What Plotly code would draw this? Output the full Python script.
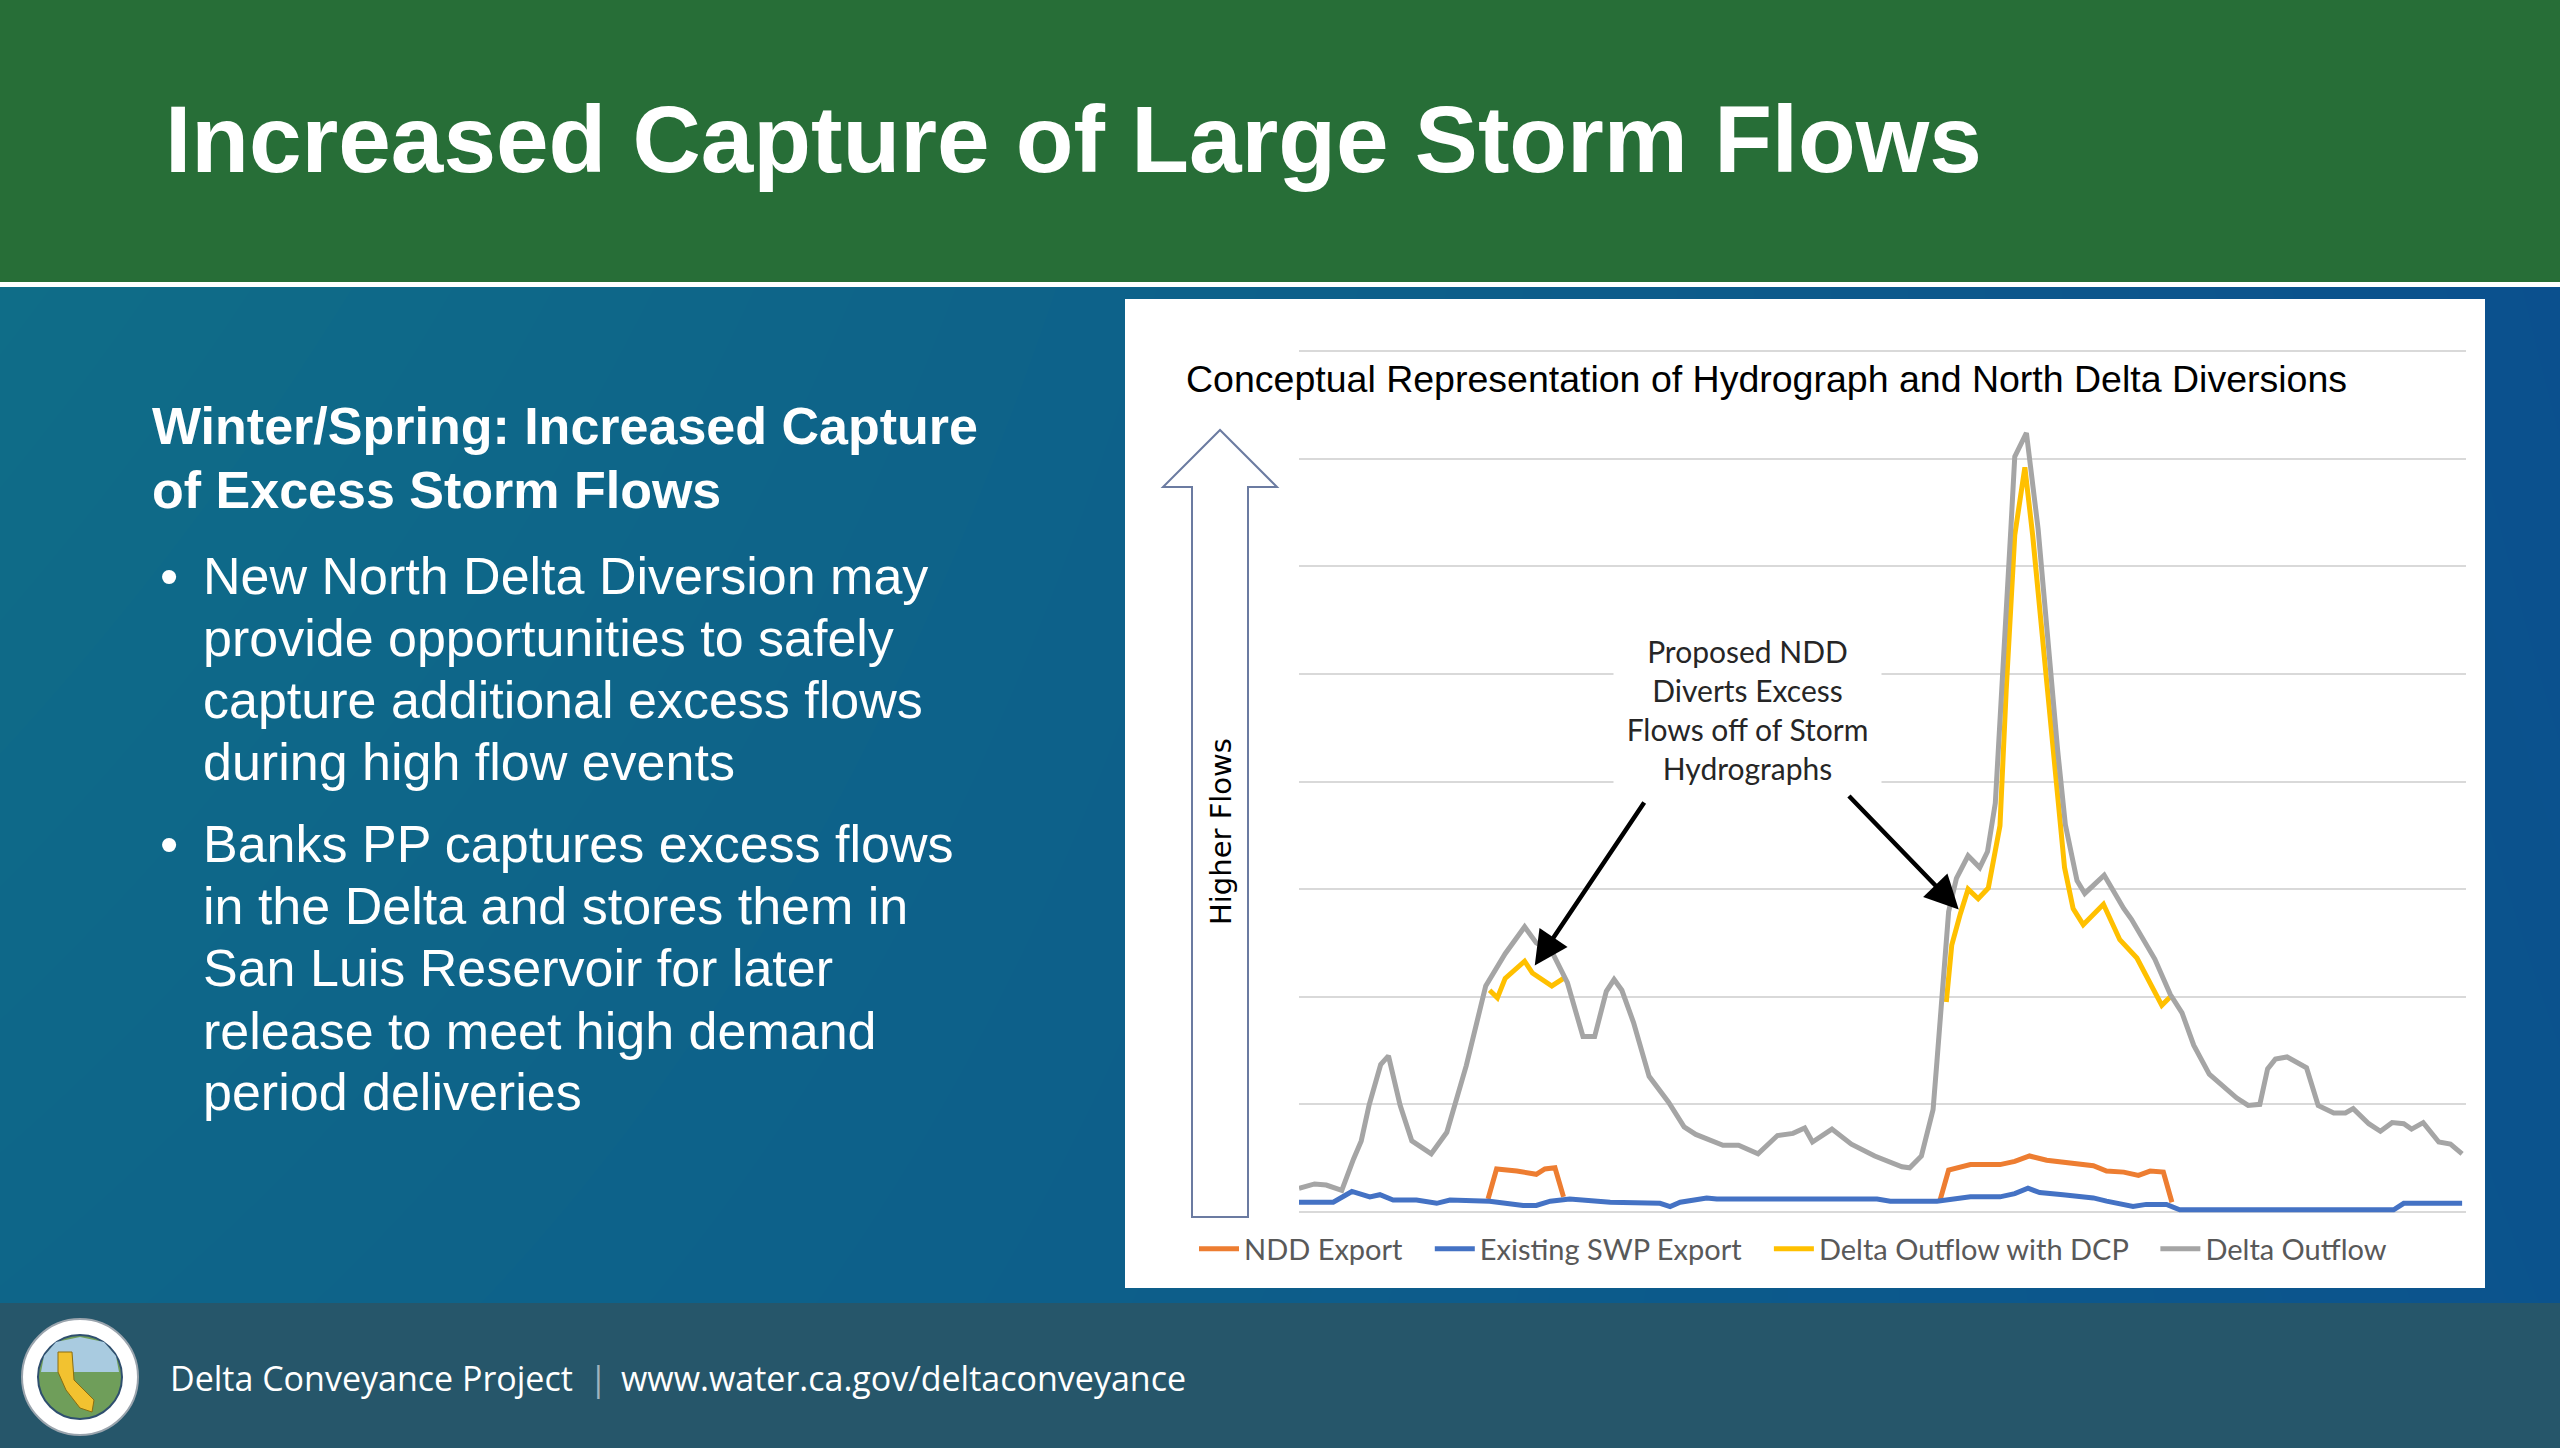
import plotly.graph_objects as go

W, H = 2560, 1448

# ---- chart data ----
# Delta Outflow (grey)
outflow_day = [0, 2, 3.5, 5.5, 7, 8, 9, 10.5, 11.5, 13, 14.5, 17, 19, 21.5, 24, 26.5, 29, 30.5,
               32.5, 34.5, 36.5, 38, 39.5, 40.5, 41.5, 43, 45, 47.5, 49.5, 51, 54.5, 56.5, 59,
               61.5, 63.5, 65, 66, 68.5, 71, 74, 77.5, 78.5, 80, 81.5, 82, 83, 83.5, 84.5, 86,
               87.5, 88.5, 89.5, 90.5, 91.5, 92, 93.5, 95, 96, 97.5, 98.5, 100, 101, 103.5, 106,
               107, 110, 112, 113.5, 115, 117, 119, 120.5, 122, 123.5, 124.5, 125.5, 127, 129.5,
               131, 133, 134.5, 135.5, 137.5, 139, 140.5, 142, 143, 144.5, 146.5, 148, 149.5]
outflow = [0.22, 0.26, 0.25, 0.20, 0.49, 0.66, 0.99, 1.37, 1.45, 0.99, 0.66, 0.54, 0.74, 1.36,
           2.10, 2.40, 2.65, 2.50, 2.42, 2.13, 1.63, 1.63, 2.05, 2.16, 2.06, 1.76, 1.26, 1.02,
           0.79, 0.72, 0.62, 0.62, 0.54, 0.71, 0.73, 0.78, 0.65, 0.77, 0.63, 0.52, 0.42, 0.41,
           0.52, 0.95, 1.40, 2.30, 2.79, 3.10, 3.31, 3.20, 3.35, 3.80, 4.99, 6.35, 7.02, 7.24,
           6.35, 5.50, 4.30, 3.60, 3.08, 2.96, 3.13, 2.82, 2.72, 2.35, 2.02, 1.85, 1.55, 1.28,
           1.15, 1.06, 0.99, 1.00, 1.33, 1.42, 1.44, 1.34, 0.99, 0.92, 0.92, 0.96, 0.82, 0.75,
           0.83, 0.82, 0.77, 0.83, 0.65, 0.63, 0.54]

# Delta Outflow with DCP (yellow), only while the NDD diverts
dcp_day_1 = [24.5, 25.5, 26.5, 29, 30, 32.5, 34]
dcp_flow_1 = [2.06, 1.99, 2.17, 2.33, 2.22, 2.10, 2.17]
dcp_day_2 = [83.2, 83.9, 85, 86, 87.3, 88.6, 90.1, 90.9, 92, 93.3, 94.3, 95.6, 97.2, 98.4,
             99.5, 100.8, 103.4, 105.5, 107.7, 110.9, 112]
dcp_flow_2 = [1.95, 2.48, 2.77, 3.00, 2.91, 3.01, 3.59, 4.85, 6.29, 6.92, 6.29, 5.28, 4.12,
              3.20, 2.82, 2.67, 2.86, 2.53, 2.36, 1.92, 2.00]

# NDD Export (orange)
ndd_day_1 = [24.3, 25.4, 28, 30.5, 31.6, 32.9, 34]
ndd_flow_1 = [0.12, 0.40, 0.38, 0.35, 0.40, 0.41, 0.14]
ndd_day_2 = [82.4, 83.5, 86.3, 90.1, 92, 93.9, 96.1, 100, 102.1, 103.8, 106, 107.9, 109.4,
             111.1, 112.2]
ndd_flow_2 = [0.11, 0.39, 0.44, 0.44, 0.47, 0.52, 0.48, 0.44, 0.43, 0.38, 0.37, 0.34, 0.38,
              0.37, 0.09]

# Existing SWP Export (blue)
swp_day = [0, 4.4, 6.8, 9.1, 10.4, 12.1, 15.1, 17.7, 19.4, 24.5, 28.8, 30.5, 32.3, 34.8, 40,
           46.4, 47.7, 49, 52.4, 53.7, 74.3, 76, 82, 86.3, 90.1, 92, 93.7, 95.2, 98.2, 102.1,
           103.8, 107.2, 108.9, 111.5, 113.2, 140.7, 142, 149.5]
swp = [0.09, 0.09, 0.19, 0.14, 0.16, 0.11, 0.11, 0.08, 0.11, 0.10, 0.06, 0.06, 0.10, 0.12,
       0.09, 0.08, 0.05, 0.09, 0.13, 0.12, 0.12, 0.10, 0.10, 0.14, 0.14, 0.17, 0.22, 0.18,
       0.16, 0.13, 0.10, 0.05, 0.07, 0.07, 0.02, 0.02, 0.08, 0.08]

# points the two callout arrows start from / point at (day, flow)
arrow_tails = [(44.5, 3.82), (70.5, 3.88)]
arrow_heads = [(30.3, 2.29), (84.8, 2.81)]

callout_lines = ["Proposed NDD", "Diverts Excess", "Flows off of Storm", "Hydrographs"]
heading_lines = ["Winter/Spring: Increased Capture", "of Excess Storm Flows"]
bullets = [
    ["New North Delta Diversion may", "provide opportunities to safely",
     "capture additional excess flows", "during high flow events"],
    ["Banks PP captures excess flows", "in the Delta and stores them in",
     "San Luis Reservoir for later", "release to meet high demand",
     "period deliveries"],
]

ORANGE = "#ED7D31"
BLUE = "#4472C4"
YELLOW = "#FFC000"
GREY = "#A5A5A5"

# chart plot area in page pixels
PLOT_L, PLOT_R, PLOT_T, PLOT_B = 1299, 2466, 349, 1213

fig = go.Figure()

# slide background gradient on a hidden full-page axis (pixel coordinates)
fig.add_trace(go.Heatmap(x=[0, W], y=[287, 1303], z=[[0, 1], [0.3, 0.9]],
                         colorscale=[[0, "#0f6d88"], [0.55, "#0d5f8a"], [1, "#0b508e"]],
                         zsmooth="best", showscale=False, hoverinfo="skip",
                         xaxis="x", yaxis="y"))
# white chart panel, same pixel axis
fig.add_trace(go.Scatter(x=[1125, 2485, 2485, 1125, 1125], y=[299, 299, 1288, 1288, 299],
                         mode="lines", fill="toself", fillcolor="#ffffff",
                         line=dict(width=0, color="#ffffff"), showlegend=False,
                         hoverinfo="skip", xaxis="x", yaxis="y"))


def seg(d1, v1, d2, v2):
    return d1 + [None] + d2, v1 + [None] + v2


nx, ny = seg(ndd_day_1, ndd_flow_1, ndd_day_2, ndd_flow_2)
yx, yy = seg(dcp_day_1, dcp_flow_1, dcp_day_2, dcp_flow_2)

pad = "\u00a0\u00a0\u00a0"
series = [
    ("NDD Export", nx, ny, ORANGE),
    ("Existing SWP Export", swp_day, swp, BLUE),
    ("Delta Outflow with DCP", yx, yy, YELLOW),
    ("Delta Outflow", outflow_day, outflow, GREY),
]
for name, xs, ys, col in series:
    fig.add_trace(go.Scatter(x=xs, y=ys, name=name + pad, mode="lines",
                             line=dict(color=col, width=5), connectgaps=False,
                             xaxis="x2", yaxis="y2", hoverinfo="skip"))

shapes = [
    # header, divider, footer
    dict(type="rect", xref="x", yref="y", x0=0, x1=W, y0=0, y1=282,
         fillcolor="#276e37", line_width=0, layer="above"),
    dict(type="rect", xref="x", yref="y", x0=0, x1=W, y0=282, y1=287,
         fillcolor="#ffffff", line_width=0, layer="above"),
    dict(type="rect", xref="x", yref="y", x0=0, x1=W, y0=1303, y1=H,
         fillcolor="#26566a", line_width=0, layer="above"),
    # "Higher Flows" block arrow
    dict(type="path", xref="x", yref="y", layer="above",
         path="M1192,1217 L1192,487 L1163,487 L1220,430 L1277,487 L1248,487 L1248,1217 Z",
         fillcolor="rgba(0,0,0,0)", line=dict(color="#6b7ba1", width=2)),
    # seal in the footer
    dict(type="circle", xref="x", yref="y", x0=22, x1=138, y0=1319, y1=1435,
         fillcolor="#ffffff", line=dict(color="#9aa4ad", width=2), layer="above"),
    dict(type="circle", xref="x", yref="y", x0=38, x1=122, y0=1335, y1=1419,
         fillcolor="#6f9e5a", line=dict(color="#2f4f6f", width=2), layer="above"),
    dict(type="path", xref="x", yref="y", layer="above",
         path="M41,1372 L119,1372 L116,1356 L104,1342 L80,1337 L56,1342 L44,1356 Z",
         fillcolor="#a9cbe0", line_width=0),
    dict(type="path", xref="x", yref="y", layer="above",
         path="M58,1352 L72,1352 L74,1380 L94,1400 L92,1412 L80,1408 L66,1390 L58,1372 Z",
         fillcolor="#f2c230", line=dict(color="#8a6d10", width=1)),
]

ann = []


def text(x, y, s, size, family, color="#ffffff", xanchor="left", bold=False, **kw):
    if bold:
        s = "<b>" + s + "</b>"
    ann.append(dict(x=x, y=y, xref="x", yref="y", text=s, showarrow=False,
                    xanchor=xanchor, yanchor="middle",
                    font=dict(size=size, family=family, color=color), **kw))


ARIAL = "Liberation Sans, Arial, sans-serif"

text(163, 139, "Increased Capture of Large Storm Flows", 94.5, ARIAL, bold=True)

for i, line in enumerate(heading_lines):
    text(150, 426 + i * 64, line, 52, ARIAL, bold=True)

bullet_y = [[576, 638, 700, 762], [844, 906, 968, 1031, 1092]]
for lines, ys in zip(bullets, bullet_y):
    text(158, ys[0], "\u2022", 52, ARIAL)
    for line, y in zip(lines, ys):
        text(201, y, line, 52, ARIAL)

# chart texts
text(1184, 379, "Conceptual Representation of Hydrograph and North Delta Diversions",
     37.5, ARIAL, color="#000000")
text(1747, 709, "<br>".join(callout_lines), 30, "Lato, sans-serif", color="#262626",
     xanchor="center", bgcolor="#ffffff", width=255, height=172, borderpad=6)
text(1221, 832, "Higher Flows", 29, "DejaVu Sans, sans-serif", color="#000000",
     xanchor="center", textangle=-90)

# footer
text(168, 1378, "Delta Conveyance Project", 34, "Open Sans, sans-serif")
text(598, 1378, "|", 34, "Open Sans, sans-serif", color="#9fb3bd", xanchor="center")
text(619, 1378, "www.water.ca.gov/deltaconveyance", 34, "Open Sans, sans-serif")

# callout arrows
for (tx, ty), (hx, hy) in zip(arrow_tails, arrow_heads):
    ann.append(dict(x=hx, y=hy, ax=tx, ay=ty, xref="x2", yref="y2", axref="x2", ayref="y2",
                    text="", showarrow=True, arrowhead=2, arrowsize=1.5, arrowwidth=4.5,
                    arrowcolor="#000000", standoff=0))

fig.update_layout(
    width=W, height=H, autosize=False,
    margin=dict(l=0, r=0, t=0, b=0),
    paper_bgcolor="#0d6089", plot_bgcolor="rgba(0,0,0,0)",
    shapes=shapes, annotations=ann,
    xaxis=dict(domain=[0, 1], range=[0, W], visible=False, fixedrange=True),
    yaxis=dict(domain=[0, 1], range=[H, 0], visible=False, fixedrange=True),
    xaxis2=dict(domain=[PLOT_L / W, PLOT_R / W], range=[0, 150], anchor="y2",
                showgrid=False, zeroline=False, showticklabels=False, ticks="",
                showline=False, fixedrange=True),
    yaxis2=dict(domain=[1 - PLOT_B / H, 1 - PLOT_T / H], range=[-0.01, 8.02], anchor="x2",
                dtick=1, tick0=0, showgrid=True, gridcolor="#d9d9d9", gridwidth=1.5,
                zeroline=False, showticklabels=False, ticks="", showline=False,
                fixedrange=True),
    showlegend=True,
    legend=dict(orientation="h", x=1804 / W, y=1 - 1249 / H, xanchor="center",
                yanchor="middle", bgcolor="rgba(0,0,0,0)",
                font=dict(family="Lato, sans-serif", size=29, color="#595959"),
                itemwidth=40),
)

fig.write_html("out.html", config={"displayModeBar": False},
               post_script="document.body.style.margin='0';")
